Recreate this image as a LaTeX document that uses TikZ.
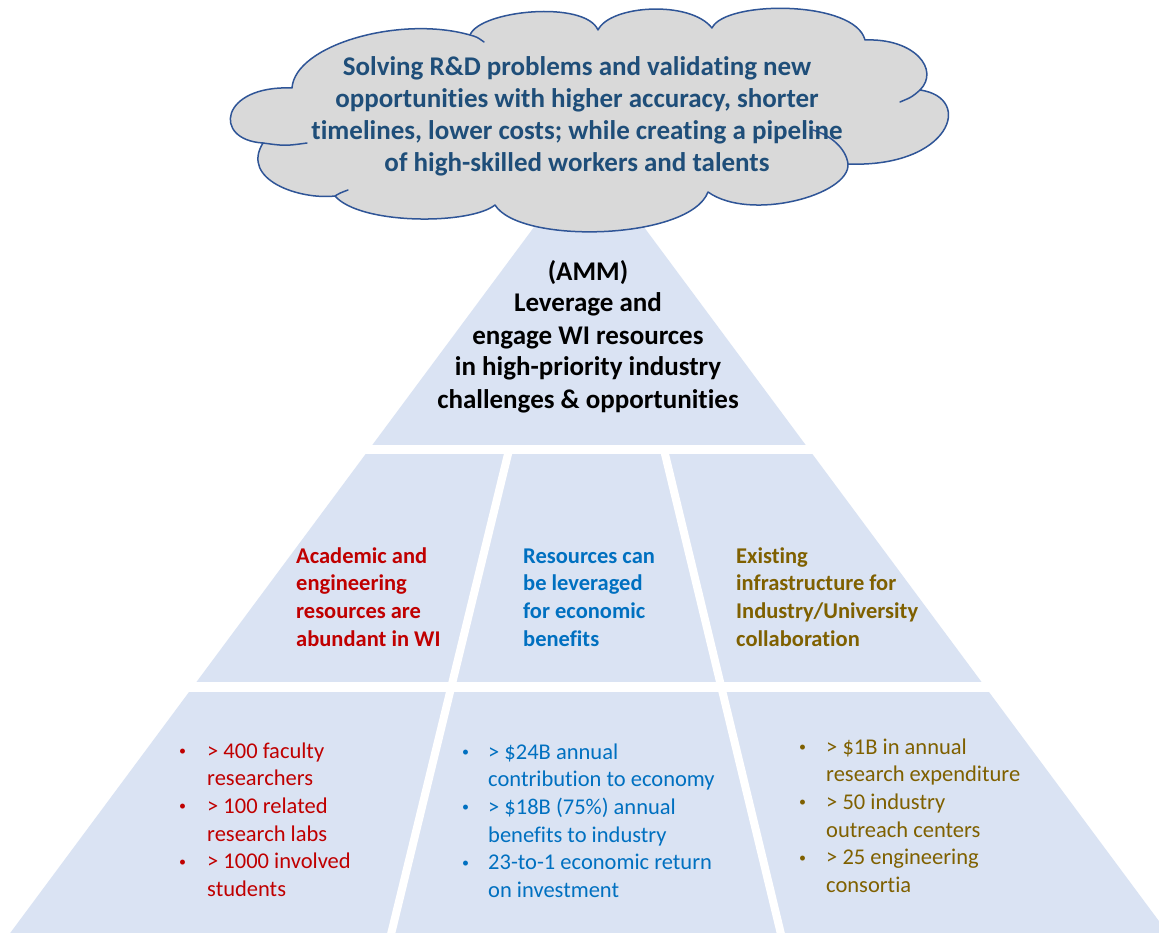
\documentclass[tikz,border=0pt]{standalone}
\usepackage{fontspec}
\setmainfont{Carlito}[Ligatures={NoCommon}]
\definecolor{pyr}{HTML}{DAE3F3}
\definecolor{cloudfill}{HTML}{D9D9D9}
\definecolor{cloudline}{HTML}{2F5597}
\definecolor{cloudtext}{HTML}{1F4E79}
\definecolor{wired}{HTML}{C00000}
\definecolor{wiblue}{HTML}{0070C0}
\definecolor{wigold}{HTML}{7F6000}
\newcommand{\pyrbul}[2]{\makebox[#1][l]{\hspace*{1.5pt}\raisebox{2.6pt}{\fontsize{14}{14}\selectfont\textbullet}}#2}
\newcommand{\pyrcont}[2]{\hspace*{#1}#2}
\tikzset{
  cloudsty/.style={fill=cloudfill, draw=cloudline, line width=1.5pt, line join=round},
  cloudarc/.style={draw=cloudline, line width=1.5pt, line cap=round},
  gapline/.style={draw=white, line width=#1},
  bigtxt/.style={inner sep=0pt, anchor=base, font=\bfseries\fontsize{27}{32}\selectfont},
  midtxt/.style={inner sep=0pt, anchor=base west, font=\bfseries\fontsize{22.5}{27.7}\selectfont},
  lowtxt/.style={inner sep=0pt, anchor=base west, font=\fontsize{22.5}{27.7}\selectfont}
}
\begin{document}
\begin{tikzpicture}[x=1pt,y=-1pt]
\useasboundingbox (0,0) rectangle (1159,933);
\fill[white] (0,0) rectangle (1159,933);
% pyramid
\fill[pyr] (589,153) -- (10.2,933) -- (1167.8,933) -- cycle;
\draw[gapline=9pt] (0,449.5) -- (1159,449.5);
\draw[gapline=10pt] (0,687) -- (1159,687);
\draw[gapline=8pt] (509.1,449.5) -- (389.6,940);
\draw[gapline=8pt] (663.9,449.5) -- (782.4,940);
% cloud
\path[cloudsty] (263,143) .. controls (212,140) and (220,85) .. (292,88)
  .. controls (295,45) and (400,15) .. (470,35)
  .. controls (480,10) and (585,0) .. (598,30)
  .. controls (610,5) and (690,0) .. (712,28)
  .. controls (725,0) and (855,0) .. (865,40)
  .. controls (915,38) and (940,70) .. (920,90)
  .. controls (975,98) and (950,168) .. (848,164)
  .. controls (850,195) and (750,222) .. (708,192)
  .. controls (690,240) and (520,245) .. (495,205)
  .. controls (470,225) and (360,225) .. (335,196)
  .. controls (300,200) and (240,180) .. (263,143) -- cycle;
\path[cloudarc] (263,143) .. controls (285,146) .. (307,143);
\path[cloudarc] (470,35) .. controls (477,37) .. (484,42);
\path[cloudarc] (920,90) .. controls (912,97) .. (900,102);
\path[cloudarc] (848,164) .. controls (846,148) and (830,135) .. (813,130);
\path[cloudarc] (335,196) .. controls (340,193) .. (348,190);
% texts
\node[bigtxt, text=cloudtext] (goal) at (577,76) {\begin{tabular}[t]{@{}c@{}}Solving R\&D problems and validating new\\ opportunities with higher accuracy, shorter\\ timelines, lower costs; while creating a pipeline\\ of high-skilled workers and talents\end{tabular}};
\node[bigtxt, text=black] (amm) at (588,280) {\begin{tabular}[t]{@{}c@{}}(AMM)\\ Leverage and\\ engage WI resources\\ in high-priority industry\\ challenges \& opportunities\end{tabular}};
\node[midtxt, text=wired] (acad) at (296,563) {\begin{tabular}[t]{@{}l@{}}Academic and\\ engineering\\ resources are\\ abundant in WI\end{tabular}};
\node[midtxt, text=wiblue] (econ) at (523,563) {\begin{tabular}[t]{@{}l@{}}Resources can\\ be leveraged\\ for economic\\ benefits\end{tabular}};
\node[midtxt, text=wigold] (infra) at (736,563) {\begin{tabular}[t]{@{}l@{}}Existing\\ infrastructure for\\ Industry/University\\ collaboration\end{tabular}};
\node[lowtxt, text=wired] (acadlist) at (177.5,758) {\begin{tabular}[t]{@{}l@{}}\pyrbul{29.5pt}{> 400 faculty}\\ \pyrcont{29.5pt}{researchers}\\ \pyrbul{29.5pt}{> 100 related}\\ \pyrcont{29.5pt}{research labs}\\ \pyrbul{29.5pt}{> 1000 involved}\\ \pyrcont{29.5pt}{students}\end{tabular}};
\node[lowtxt, text=wiblue] (econlist) at (460.5,759) {\begin{tabular}[t]{@{}l@{}}\pyrbul{27.5pt}{> \$24B annual}\\ \pyrcont{27.5pt}{contribution to economy}\\ \pyrbul{27.5pt}{> \$18B (75\%) annual}\\ \pyrcont{27.5pt}{benefits to industry}\\ \pyrbul{27.5pt}{23-to-1 economic return}\\ \pyrcont{27.5pt}{on investment}\end{tabular}};
\node[lowtxt, text=wigold] (infralist) at (797.5,754) {\begin{tabular}[t]{@{}l@{}}\pyrbul{28.5pt}{> \$1B in annual}\\ \pyrcont{28.5pt}{research expenditure}\\ \pyrbul{28.5pt}{> 50 industry}\\ \pyrcont{28.5pt}{outreach centers}\\ \pyrbul{28.5pt}{> 25 engineering}\\ \pyrcont{28.5pt}{consortia}\end{tabular}};
\end{tikzpicture}
\end{document}
